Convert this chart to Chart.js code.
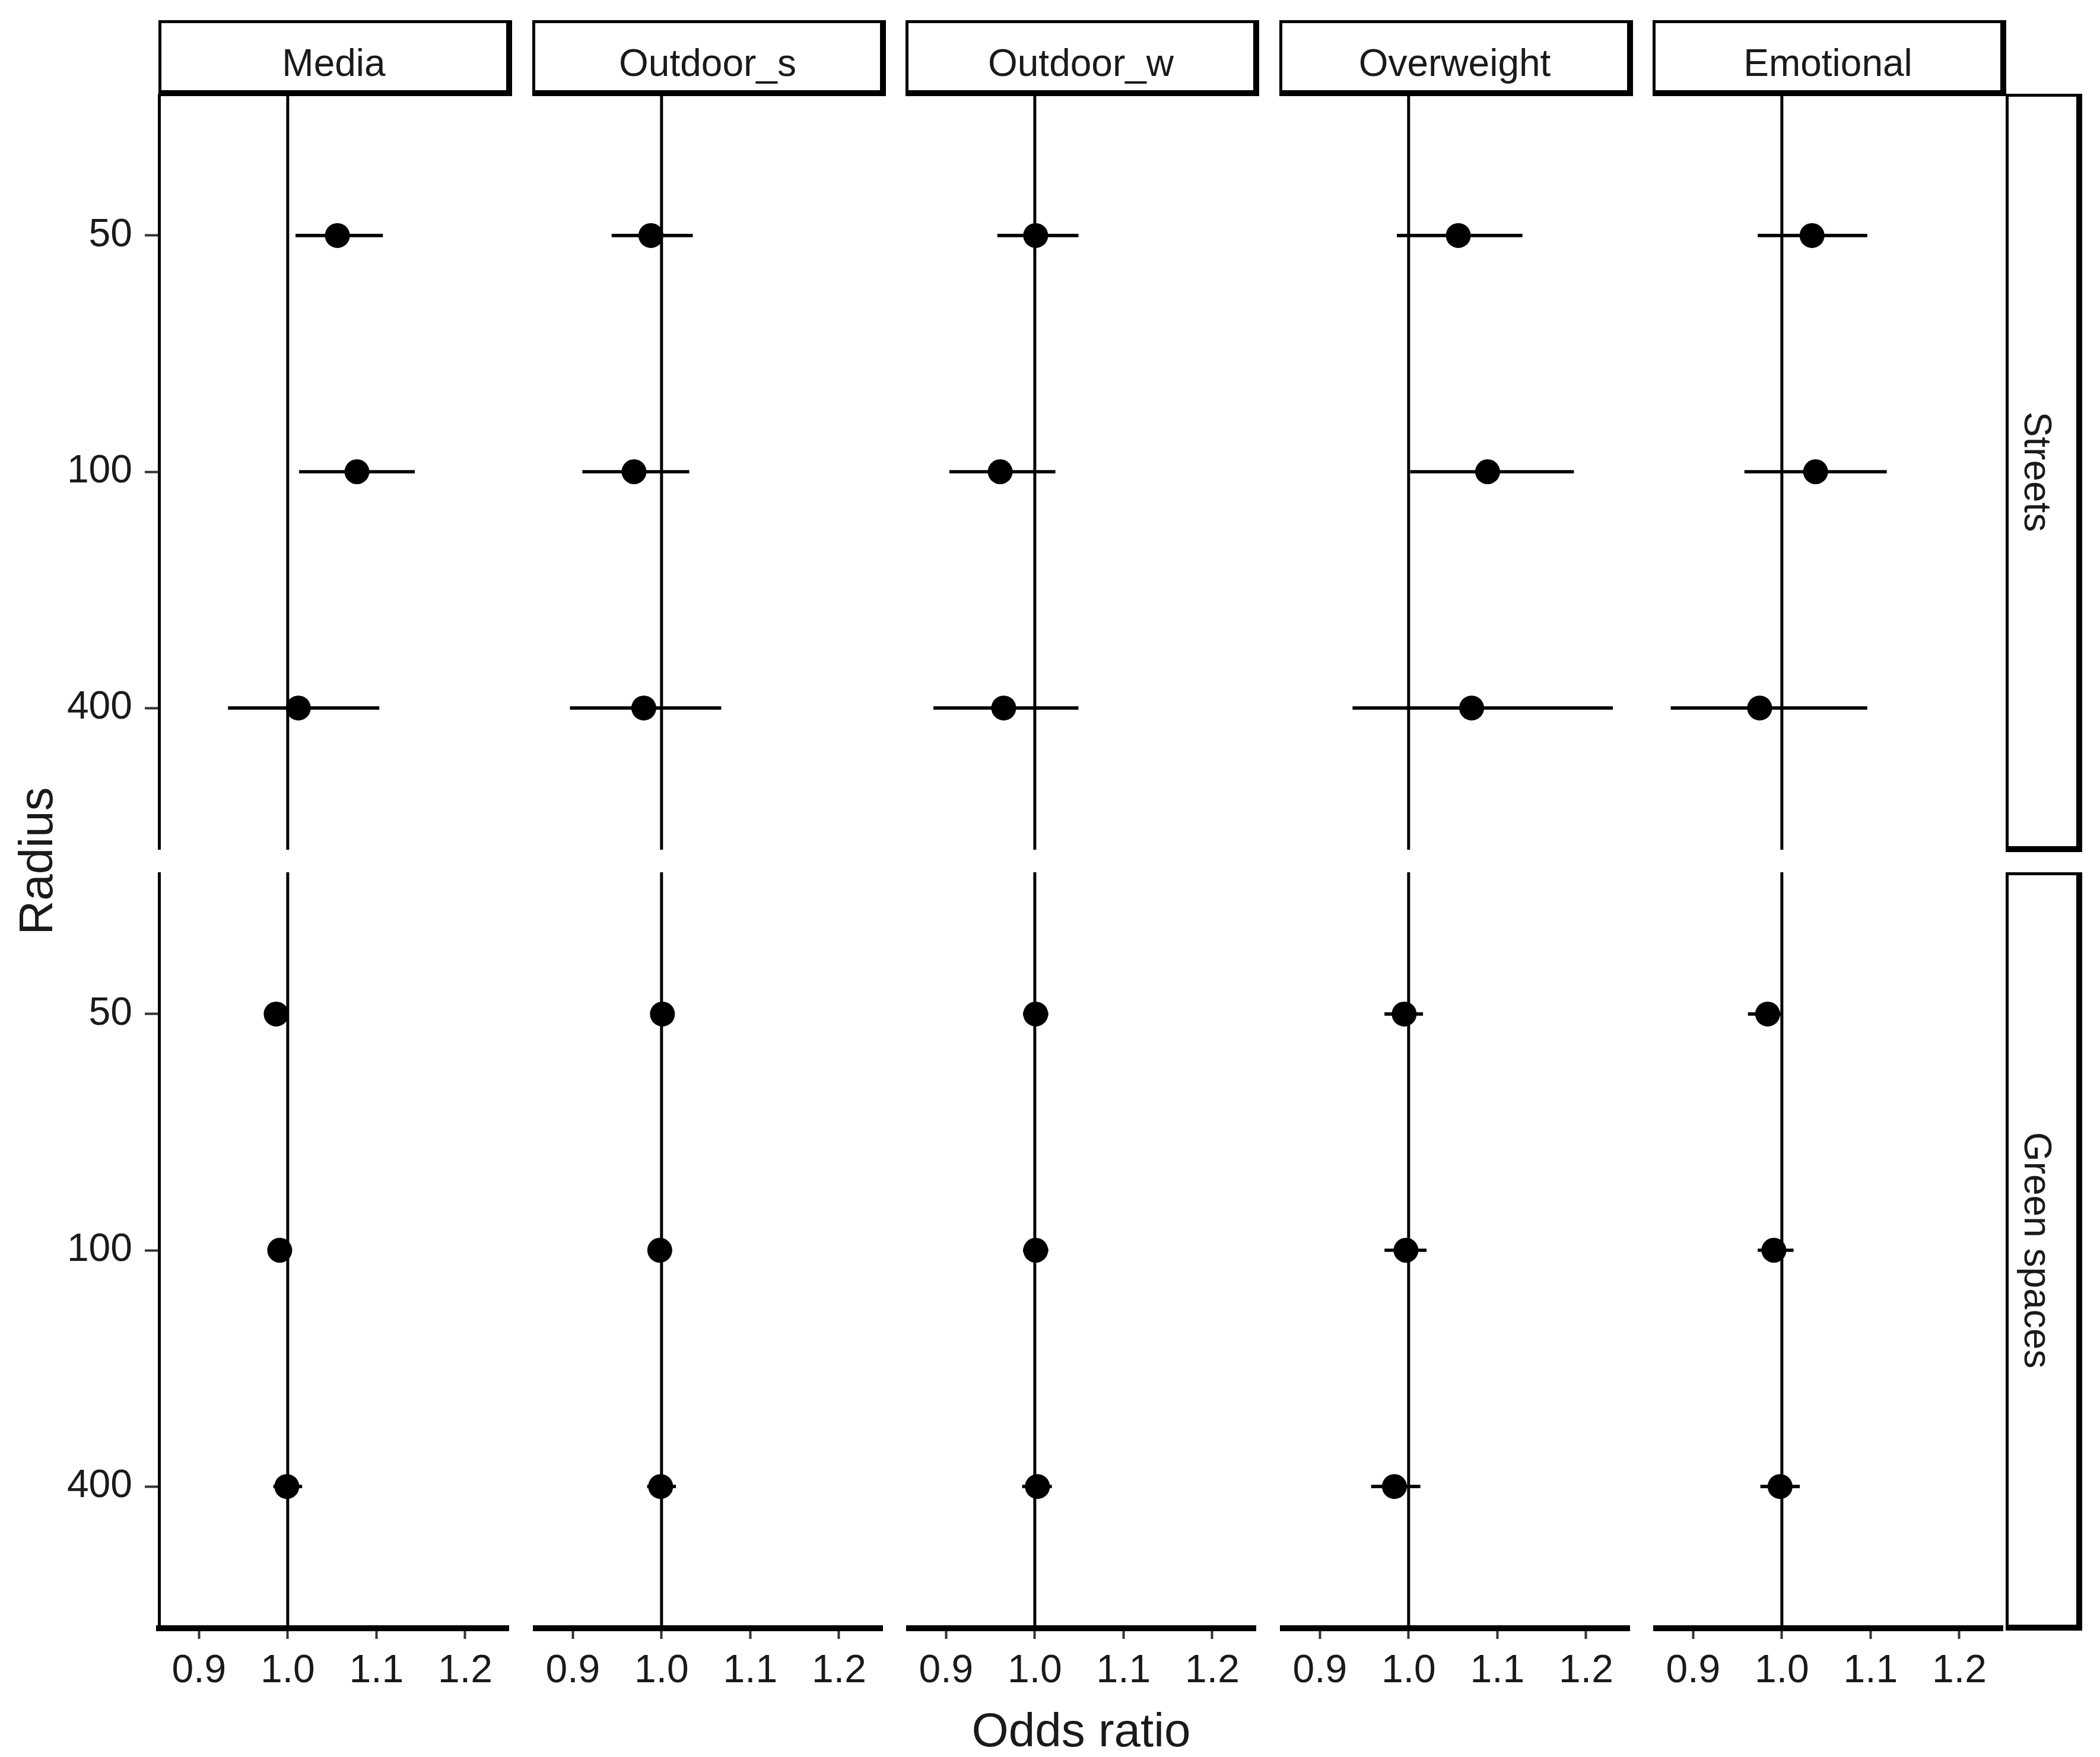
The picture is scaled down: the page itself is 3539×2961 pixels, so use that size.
<!DOCTYPE html>
<html>
<head>
<meta charset="utf-8">
<title>Odds ratio by radius</title>
<script src="https://cdn.jsdelivr.net/npm/chart.js@4.4.0/dist/chart.umd.min.js"></script>
<style>
    html, body { margin: 0; padding: 0; background: #fff; }
    #figure {
        position: relative;
        width: 3539px;
        height: 2961px;
        background: #fff;
        overflow: hidden;
        font-family: 'Liberation Sans', Arial, sans-serif;
        color: #1a1a1a;
    }
    #figure canvas { position: absolute; }
    .strip {
        position: absolute;
        box-sizing: border-box;
        background: #fff;
        border-style: solid;
        border-color: #000;
        border-width: 5px 10px 10px 5px;
        display: flex;
        align-items: center;
        justify-content: center;
        font-size: 64px;
    }
    .strip.top { padding-top: 20px; }
    .strip.right { padding-right: 16px; }
    .strip span { white-space: nowrap; flex-shrink: 0; }
    .strip.right span { transform: rotate(90deg); }
    .axis-title {
        position: absolute;
        font-size: 80px;
        white-space: nowrap;
        transform: translate(-50%, -50%);
    }
</style>
</head>
<body>
<div id="figure">
    <div class="axis-title" style="left:1822px; top:2916px;">Odds ratio</div>
    <div class="axis-title" style="left:61px; top:1451px; transform: translate(-50%, -50%) rotate(-90deg);">Radius</div>
</div>

<script>
// Facets
const outcomes = ['Media', 'Outdoor_s', 'Outdoor_w', 'Overweight', 'Emotional'];
const settings = ['Streets', 'Green spaces'];
const radii = ['50', '100', '400'];
const xTicks = [0.9, 1.0, 1.1, 1.2];

// Streets: one row per outcome, values for radius 50 / 100 / 400
const streetsOR = [
    [1.056, 1.078, 1.012],
    [0.988, 0.969, 0.980],
    [1.001, 0.961, 0.965],
    [1.056, 1.089, 1.071],
    [1.034, 1.038, 0.975]
];
const streetsLow = [
    [1.009, 1.013, 0.933],
    [0.944, 0.911, 0.897],
    [0.958, 0.904, 0.886],
    [0.987, 1.002, 0.937],
    [0.973, 0.958, 0.875]
];
const streetsHigh = [
    [1.107, 1.143, 1.103],
    [1.035, 1.031, 1.067],
    [1.049, 1.023, 1.049],
    [1.128, 1.186, 1.230],
    [1.096, 1.118, 1.096]
];

// Green spaces
const greenOR = [
    [0.987, 0.991, 0.999],
    [1.001, 0.998, 0.999],
    [1.001, 1.001, 1.003],
    [0.995, 0.997, 0.984],
    [0.984, 0.991, 0.998]
];
const greenLow = [
    [0.980, 0.983, 0.984],
    [0.988, 0.985, 0.984],
    [0.987, 0.987, 0.986],
    [0.973, 0.973, 0.958],
    [0.962, 0.973, 0.976]
];
const greenHigh = [
    [0.994, 0.999, 1.016],
    [1.014, 1.011, 1.016],
    [1.015, 1.015, 1.019],
    [1.016, 1.020, 1.013],
    [1.000, 1.013, 1.020]
];

// Layout (pixels)
const panelLeft = [268, 898, 1527, 2157, 2786];
const rowTop = [158, 1470];
const PANEL_W = 590;
const PANEL_H = 1274;
const X_AXIS_H = 150;
const X_MIN = 0.855;
const X_MAX = 1.2495;
const Y_MIN = 0.4;
const Y_MAX = 3.6;

const FONT = "'Liberation Sans', Arial, sans-serif";
Chart.defaults.font.family = FONT;

const figure = document.getElementById('figure');

function addStrip(text, left, top, width, height, isRight) {
    const div = document.createElement('div');
    div.className = 'strip ' + (isRight ? 'right' : 'top');
    div.style.left = left + 'px';
    div.style.top = top + 'px';
    div.style.width = width + 'px';
    div.style.height = height + 'px';
    const span = document.createElement('span');
    span.textContent = text;
    div.appendChild(span);
    figure.appendChild(div);
}

// keep every panel's plot area exactly the same size
function noPadding(scale) {
    scale.paddingTop = 0;
    scale.paddingBottom = 0;
    scale.paddingLeft = 0;
    scale.paddingRight = 0;
}

function makePanel(col, row) {
    const isLeft = col === 0;
    const isBottom = row === 1;
    const or = row === 0 ? streetsOR[col] : greenOR[col];
    const low = row === 0 ? streetsLow[col] : greenLow[col];
    const high = row === 0 ? streetsHigh[col] : greenHigh[col];

    const canvas = document.createElement('canvas');
    const left = isLeft ? 0 : panelLeft[col];
    const width = isLeft ? panelLeft[0] + PANEL_W : PANEL_W;
    const height = PANEL_H + (isBottom ? X_AXIS_H : 0);
    canvas.width = width;
    canvas.height = height;
    canvas.style.left = left + 'px';
    canvas.style.top = rowTop[row] + 'px';
    canvas.style.width = width + 'px';
    canvas.style.height = height + 'px';
    figure.appendChild(canvas);

    return new Chart(canvas.getContext('2d'), {
        type: 'scatter',
        data: {
            datasets: [
                {
                    type: 'scatter',
                    data: radii.map((r, i) => ({ x: or[i], y: i + 1 })),
                    pointRadius: 21,
                    pointHoverRadius: 21,
                    pointBackgroundColor: '#000',
                    pointBorderColor: '#000',
                    pointBorderWidth: 0,
                    order: 0
                },
                {
                    type: 'bar',
                    indexAxis: 'y',
                    data: radii.map((r, i) => ({ y: i + 1, x: [low[i], high[i]] })),
                    backgroundColor: '#000',
                    borderWidth: 0,
                    barThickness: 5,
                    order: 1
                },
                {
                    type: 'line',
                    data: [{ x: 1, y: Y_MIN }, { x: 1, y: Y_MAX }],
                    borderColor: '#000',
                    borderWidth: 5,
                    pointRadius: 0,
                    fill: false,
                    order: 2
                }
            ]
        },
        options: {
            responsive: false,
            animation: false,
            devicePixelRatio: 1,
            events: [],
            layout: { padding: 0, autoPadding: false },
            plugins: {
                legend: { display: false },
                tooltip: { enabled: false }
            },
            scales: {
                x: {
                    type: 'linear',
                    min: X_MIN,
                    max: X_MAX,
                    offset: false,
                    display: isBottom,
                    afterBuildTicks: scale => {
                        scale.ticks = xTicks.map(v => ({ value: v }));
                    },
                    afterFit: scale => {
                        // only the bottom row shows an axis
                        scale.height = isBottom ? X_AXIS_H : 0;
                        noPadding(scale);
                    },
                    ticks: {
                        callback: value => value.toFixed(1),
                        font: { size: 66 },
                        color: '#1a1a1a',
                        padding: 15,
                        maxRotation: 0,
                        autoSkip: false
                    },
                    grid: {
                        offset: false,
                        drawOnChartArea: false,
                        drawTicks: true,
                        tickLength: 18,
                        tickWidth: 4,
                        tickColor: '#333'
                    },
                    border: { display: true, width: 10, color: '#000' }
                },
                y: {
                    type: 'linear',
                    min: Y_MIN,
                    max: Y_MAX,
                    reverse: true,
                    offset: false,
                    display: isLeft,
                    afterBuildTicks: scale => {
                        scale.ticks = radii.map((r, i) => ({ value: i + 1 }));
                    },
                    afterFit: scale => {
                        scale.width = isLeft ? panelLeft[0] : 0;
                        noPadding(scale);
                    },
                    ticks: {
                        callback: value => radii[value - 1],
                        font: { size: 66 },
                        color: '#1a1a1a',
                        padding: 21,
                        autoSkip: false
                    },
                    grid: {
                        offset: false,
                        drawOnChartArea: false,
                        drawTicks: true,
                        tickLength: 24,
                        tickWidth: 4,
                        tickColor: '#333'
                    },
                    border: { display: true, width: 5, color: '#000' }
                }
            }
        }
    });
}

document.addEventListener('DOMContentLoaded', function() {
    outcomes.forEach((name, col) => {
        addStrip(name, panelLeft[col] - 1, 34, PANEL_W + 6, 128, false);
    });
    settings.forEach((name, row) => {
        addStrip(name, 3380, rowTop[row], 129, PANEL_H + 4, true);
    });
    for (let row = 0; row < settings.length; row++) {
        for (let col = 0; col < outcomes.length; col++) {
            makePanel(col, row);
        }
    }
});
</script>
</body>
</html>
